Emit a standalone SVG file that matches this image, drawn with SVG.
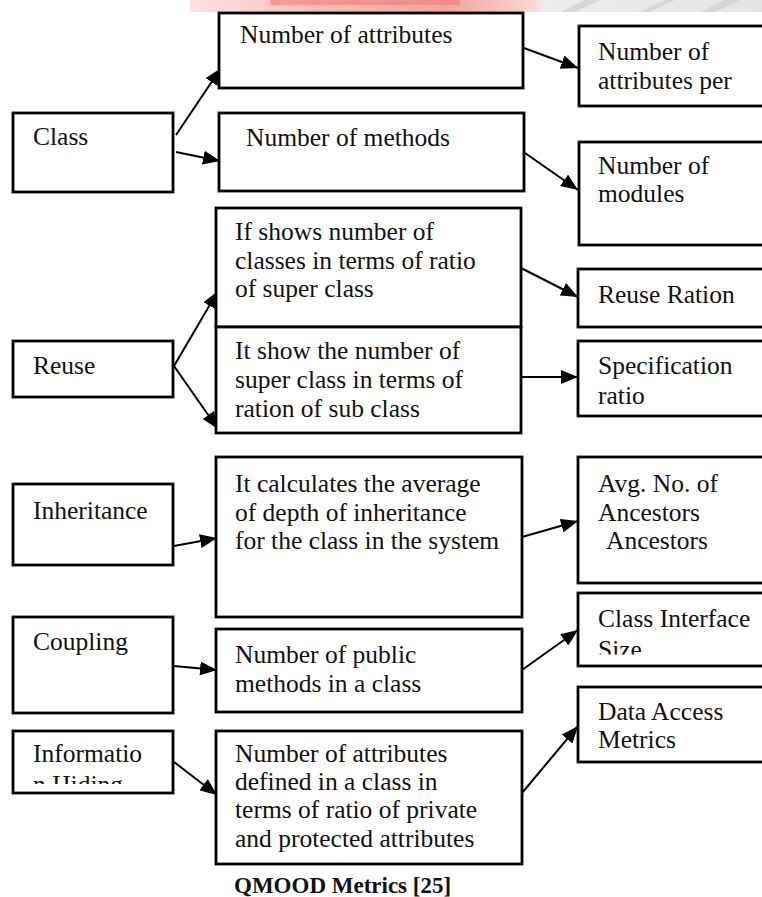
<svg xmlns="http://www.w3.org/2000/svg" width="762" height="897" viewBox="0 0 762 897">
<style>
.box{fill:#fff;stroke:#000;stroke-width:2.8}
.t{font-family:"Liberation Serif","Times New Roman",serif;font-size:25.5px;fill:#111}
.cap{font-family:"Liberation Serif","Times New Roman",serif;font-size:23px;font-weight:bold;fill:#111}
.c{stroke:#000;stroke-width:2;fill:none;marker-end:url(#ah)}
</style>
<defs>
<marker id="ah" markerUnits="userSpaceOnUse" markerWidth="18" markerHeight="14" refX="17" refY="7" orient="auto">
<path d="M0,0 L17,7 L0,14 z" fill="#000"/>
</marker>
<linearGradient id="wm" x1="0" y1="0" x2="1" y2="0">
<stop offset="0" stop-color="#fde3e1"/>
<stop offset="0.25" stop-color="#f7b9b4"/>
<stop offset="0.45" stop-color="#f4a49e"/>
<stop offset="0.6" stop-color="#fbd6d3"/>
<stop offset="0.62" stop-color="#ededed"/>
<stop offset="1" stop-color="#e4e4e4"/>
</linearGradient>
<clipPath id="clipSize"><rect x="578" y="600" width="184" height="54.5"/></clipPath>
<clipPath id="clipHiding"><rect x="14" y="740" width="158" height="44"/></clipPath>
</defs>

<g id="watermark">
<rect x="190" y="0" width="572" height="12" fill="url(#wm)"/>
<rect x="270" y="0" width="190" height="5" fill="#ef7d75" opacity="0.6"/>
<path d="M560,12 L585,0 L600,0 L575,12 z M640,12 L665,0 L675,0 L650,12 z M700,12 L725,0 L740,0 L715,12 z" fill="#cfcfcf" opacity="0.7"/>
</g>

<g id="connectors">
<line class="c" x1="176" y1="135" x2="221" y2="68"/>
<line class="c" x1="176" y1="152" x2="220" y2="161"/>
<line class="c" x1="524" y1="48" x2="578" y2="68"/>
<line class="c" x1="525" y1="153" x2="578" y2="190"/>
<line class="c" x1="521" y1="268" x2="578" y2="297"/>
<line class="c" x1="174" y1="366" x2="218" y2="291"/>
<line class="c" x1="174" y1="366" x2="218" y2="429"/>
<line class="c" x1="521" y1="377" x2="578" y2="377"/>
<line class="c" x1="174" y1="546" x2="217" y2="538"/>
<line class="c" x1="522" y1="537" x2="578" y2="521"/>
<line class="c" x1="174" y1="666" x2="217" y2="670"/>
<line class="c" x1="522" y1="670" x2="578" y2="630"/>
<line class="c" x1="174" y1="762" x2="217" y2="795"/>
<line class="c" x1="522" y1="793" x2="578" y2="726"/>
</g>

<g id="n-class">
<rect class="box" x="13" y="113" width="160" height="79"/>
<text class="t" x="33" y="145">Class</text>
</g>
<g id="n-num-attributes">
<rect class="box" x="219" y="13" width="304" height="75"/>
<text class="t" x="240" y="43">Number of attributes</text>
</g>
<g id="n-num-attributes-per">
<rect class="box" x="579" y="26" width="190" height="80"/>
<text class="t" x="598" y="60">Number of</text>
<text class="t" x="598" y="89">attributes per</text>
</g>
<g id="n-num-methods">
<rect class="box" x="219" y="113" width="305" height="78"/>
<text class="t" x="246" y="146">Number of methods</text>
</g>
<g id="n-num-modules">
<rect class="box" x="579" y="142" width="190" height="103"/>
<text class="t" x="598" y="174">Number of</text>
<text class="t" x="598" y="202">modules</text>
</g>
<g id="n-reuse">
<rect class="box" x="13" y="341" width="160" height="56"/>
<text class="t" x="33" y="374">Reuse</text>
</g>
<g id="n-if-shows">
<rect class="box" x="216" y="208" width="305" height="119"/>
<text class="t" x="235" y="240">If shows number of</text>
<text class="t" x="235" y="269">classes in terms of ratio</text>
<text class="t" x="235" y="297">of super class</text>
</g>
<g id="n-it-show">
<rect class="box" x="216" y="327" width="305" height="106"/>
<text class="t" x="235" y="359">It show the number of</text>
<text class="t" x="235" y="388">super class in terms of</text>
<text class="t" x="235" y="417">ration of sub class</text>
</g>
<g id="n-reuse-ration">
<rect class="box" x="578" y="269" width="190" height="58"/>
<text class="t" x="598" y="303">Reuse Ration</text>
</g>
<g id="n-specification">
<rect class="box" x="578" y="341" width="190" height="75"/>
<text class="t" x="598" y="374">Specification</text>
<text class="t" x="598" y="404">ratio</text>
</g>
<g id="n-inheritance">
<rect class="box" x="13" y="484" width="160" height="81"/>
<text class="t" x="33" y="519">Inheritance</text>
</g>
<g id="n-it-calculates">
<rect class="box" x="216" y="457" width="306" height="160"/>
<text class="t" x="235" y="492">It calculates the average</text>
<text class="t" x="235" y="521">of depth of inheritance</text>
<text class="t" x="235" y="549">for the class in the system</text>
</g>
<g id="n-avg-ancestors">
<rect class="box" x="578" y="457" width="190" height="126"/>
<text class="t" x="598" y="492">Avg. No. of</text>
<text class="t" x="598" y="521">Ancestors</text>
<text class="t" x="606" y="549">Ancestors</text>
</g>
<g id="n-coupling">
<rect class="box" x="13" y="617" width="160" height="96"/>
<text class="t" x="33" y="650">Coupling</text>
</g>
<g id="n-num-public">
<rect class="box" x="216" y="629" width="306" height="83"/>
<text class="t" x="235" y="663">Number of public</text>
<text class="t" x="235" y="692">methods in a class</text>
</g>
<g id="n-class-interface">
<rect class="box" x="578" y="593" width="190" height="73"/>
<text class="t" x="598" y="627">Class Interface</text>
<text class="t" x="598" y="658" clip-path="url(#clipSize)">Size</text>
</g>
<g id="n-information-hiding">
<rect class="box" x="13" y="731" width="160" height="62"/>
<text class="t" x="33" y="762">Informatio</text>
<text class="t" x="33" y="793" clip-path="url(#clipHiding)">n Hiding</text>
</g>
<g id="n-num-attributes-defined">
<rect class="box" x="216" y="731" width="306" height="133"/>
<text class="t" x="235" y="762">Number of attributes</text>
<text class="t" x="235" y="790">defined in a class in</text>
<text class="t" x="235" y="818">terms of ratio of private</text>
<text class="t" x="235" y="847">and protected attributes</text>
</g>
<g id="n-data-access">
<rect class="box" x="578" y="687" width="190" height="75"/>
<text class="t" x="598" y="720">Data Access</text>
<text class="t" x="598" y="748">Metrics</text>
</g>

<text class="cap" x="234" y="893">QMOOD Metrics [25]</text>
</svg>
